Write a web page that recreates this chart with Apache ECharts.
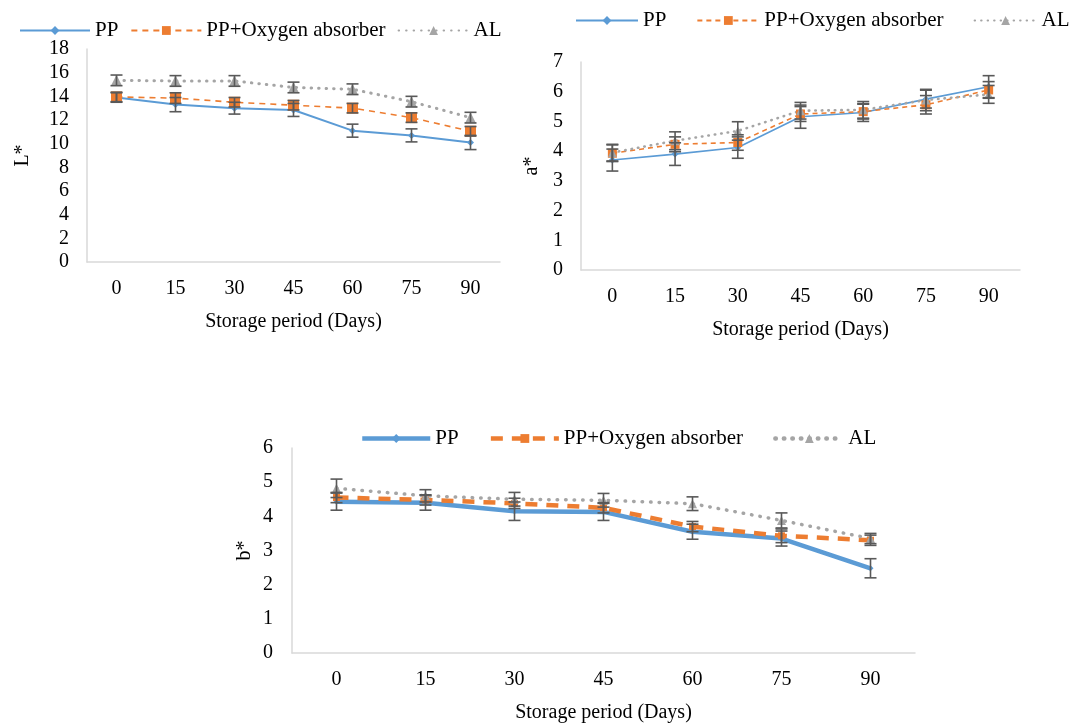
<!DOCTYPE html>
<html>
<head>
<meta charset="utf-8">
<script src="https://cdn.jsdelivr.net/npm/echarts@6/dist/echarts.min.js"></script>
<style>
  html, body { margin: 0; padding: 0; background: #fff; }
  #chart { width: 1075px; height: 724px; }
</style>
</head>
<body>
<div id="chart"></div>
<script>
// storage days
var days = ['0', '15', '30', '45', '60', '75', '90'];

// L*
var L_PP = [13.9, 13.3, 13.0, 12.85, 11.1, 10.7, 10.1];
var L_OA = [13.95, 13.85, 13.5, 13.25, 13.0, 12.2, 11.05];
var L_AL = [15.35, 15.3, 15.3, 14.75, 14.6, 13.55, 12.2];
var L_PP_sd = [0.4, 0.6, 0.5, 0.55, 0.55, 0.55, 0.6];
var L_OA_sd = [0.4, 0.45, 0.4, 0.4, 0.4, 0.4, 0.4];
var L_AL_sd = [0.45, 0.45, 0.45, 0.45, 0.45, 0.45, 0.45];

// a*
var a_PP = [3.7, 3.9, 4.12, 5.16, 5.3, 5.75, 6.17];
var a_OA = [3.93, 4.23, 4.29, 5.25, 5.33, 5.56, 6.06];
var a_AL = [3.95, 4.35, 4.68, 5.36, 5.39, 5.72, 5.91];
var a_PP_sd = [0.37, 0.38, 0.36, 0.39, 0.3, 0.3, 0.37];
var a_OA_sd = [0.28, 0.25, 0.26, 0.25, 0.25, 0.31, 0.28];
var a_AL_sd = [0.28, 0.3, 0.31, 0.28, 0.28, 0.36, 0.3];

// b*
var b_PP = [4.43, 4.4, 4.15, 4.13, 3.55, 3.35, 2.48];
var b_OA = [4.55, 4.48, 4.38, 4.25, 3.7, 3.43, 3.3];
var b_AL = [4.82, 4.6, 4.5, 4.47, 4.37, 3.88, 3.35];
var b_PP_sd = [0.25, 0.22, 0.27, 0.25, 0.22, 0.22, 0.28];
var b_OA_sd = [0.15, 0.15, 0.15, 0.15, 0.15, 0.2, 0.15];
var b_AL_sd = [0.27, 0.18, 0.2, 0.2, 0.2, 0.22, 0.15];

var FONT = 'Liberation Serif';
var BLUE = '#5b9bd5', ORANGE = '#ed7d31', GREY = '#a5a5a5', BAR = '#595959';

function errData(vals, sd) {
  return vals.map(function (v, i) { return [i, v - sd[i], v + sd[i]]; });
}

function errRender(params, api) {
  var x = api.value(0);
  var lo = api.coord([x, api.value(1)]);
  var hi = api.coord([x, api.value(2)]);
  var w = 6;
  var st = { stroke: BAR, lineWidth: 1.6 };
  return {
    type: 'group',
    children: [
      { type: 'line', shape: { x1: lo[0], y1: lo[1], x2: hi[0], y2: hi[1] }, style: st },
      { type: 'line', shape: { x1: lo[0] - w, y1: lo[1], x2: lo[0] + w, y2: lo[1] }, style: st },
      { type: 'line', shape: { x1: hi[0] - w, y1: hi[1], x2: hi[0] + w, y2: hi[1] }, style: st }
    ]
  };
}

var errCount = 0;
function errSeries(idx, vals, sd) {
  errCount++;
  return {
    type: 'custom', name: 'err' + errCount, xAxisIndex: idx, yAxisIndex: idx,
    renderItem: errRender, encode: { x: 0, y: [1, 2] }, z: 3,
    data: errData(vals, sd), silent: true
  };
}

function lineSeries(idx, name, vals, color, lineStyle, symbol, size) {
  return {
    type: 'line', name: name, xAxisIndex: idx, yAxisIndex: idx,
    data: vals, symbol: symbol, symbolSize: size, showSymbol: true,
    itemStyle: { color: color }, lineStyle: Object.assign({ color: color }, lineStyle),
    z: 2
  };
}

function xAx(idx) {
  return {
    type: 'category', gridIndex: idx, data: days,
    axisLine: { lineStyle: { color: '#d9d9d9', width: 1.5 } },
    axisTick: { show: false },
    axisLabel: { color: '#000', fontFamily: FONT, fontSize: 20, margin: 17 },
    name: 'Storage period (Days)', nameLocation: 'middle', nameGap: 50,
    nameTextStyle: { color: '#000', fontFamily: FONT, fontSize: 20 }
  };
}

function yAx(idx, max, interval, name, gap, margin) {
  return {
    type: 'value', gridIndex: idx, min: 0, max: max, interval: interval,
    splitLine: { show: false },
    axisLine: { show: true, lineStyle: { color: '#d9d9d9', width: 1.5 } },
    axisTick: { show: false },
    axisLabel: { color: '#000', fontFamily: FONT, fontSize: 20, margin: margin },
    name: name, nameLocation: 'middle', nameGap: gap, nameMoveOverlap: false,
    nameTextStyle: { color: '#000', fontFamily: FONT, fontSize: 20 }
  };
}

function legend(idx, left, top, w, gap, lw) {
  var suf = idx === 0 ? '' : '#' + idx;
  return {
    left: left, top: top, width: 560, padding: 0,
    itemWidth: w, itemHeight: 11, itemGap: gap,
    data: ['PP' + suf, 'PP+Oxygen absorber' + suf, 'AL' + suf],
    formatter: function (n) { return n.split('#')[0]; },
    textStyle: { color: '#000', fontFamily: FONT, fontSize: 21 },
    lineStyle: { width: lw },
    selectedMode: false
  };
}

var option = {
  animation: false,
  grid: [
    { left: 87, top: 49, width: 413, height: 213 },
    { left: 581, top: 62, width: 439, height: 208 },
    { left: 292, top: 448, width: 623, height: 209 }
  ],
  legend: [
    legend(0, 19, 20, 70, 12, 2),
    legend(1, 575, 10, 62, 30, 2),
    legend(2, 360, 428, 68, 30, 4.5)
  ],
  xAxis: [xAx(0), xAx(1), xAx(2)],
  yAxis: [
    yAx(0, 18, 2, 'L*', 54, 18),
    yAx(1, 7, 1, 'a*', 39, 18),
    yAx(2, 6, 1, 'b*', 37, 19)
  ],
  series: [
    lineSeries(0, 'PP', L_PP, BLUE, { width: 2 }, 'diamond', 7),
    lineSeries(0, 'PP+Oxygen absorber', L_OA, ORANGE, { width: 1.6, type: [6, 5] }, 'rect', 11),
    lineSeries(0, 'AL', L_AL, GREY, { width: 3, type: [0.5, 7], cap: 'round' }, 'triangle', 11),
    errSeries(0, L_PP, L_PP_sd),
    errSeries(0, L_OA, L_OA_sd),
    errSeries(0, L_AL, L_AL_sd),

    lineSeries(1, 'PP#1', a_PP, BLUE, { width: 1.6 }, 'diamond', 7),
    lineSeries(1, 'PP+Oxygen absorber#1', a_OA, ORANGE, { width: 1.6, type: [5, 4] }, 'rect', 9),
    lineSeries(1, 'AL#1', a_AL, GREY, { width: 2.6, type: [0.5, 6], cap: 'round' }, 'triangle', 9),
    errSeries(1, a_PP, a_PP_sd),
    errSeries(1, a_OA, a_OA_sd),
    errSeries(1, a_AL, a_AL_sd),

    lineSeries(2, 'PP#2', b_PP, BLUE, { width: 4.5 }, 'diamond', 6),
    lineSeries(2, 'PP+Oxygen absorber#2', b_OA, ORANGE, { width: 4.5, type: [12, 9] }, 'rect', 7),
    lineSeries(2, 'AL#2', b_AL, GREY, { width: 3.5, type: [0.5, 8], cap: 'round' }, 'triangle', 9),
    errSeries(2, b_PP, b_PP_sd),
    errSeries(2, b_OA, b_OA_sd),
    errSeries(2, b_AL, b_AL_sd)
  ]
};

var myChart = echarts.init(document.getElementById('chart'));
myChart.setOption(option);
</script>
</body>
</html>
